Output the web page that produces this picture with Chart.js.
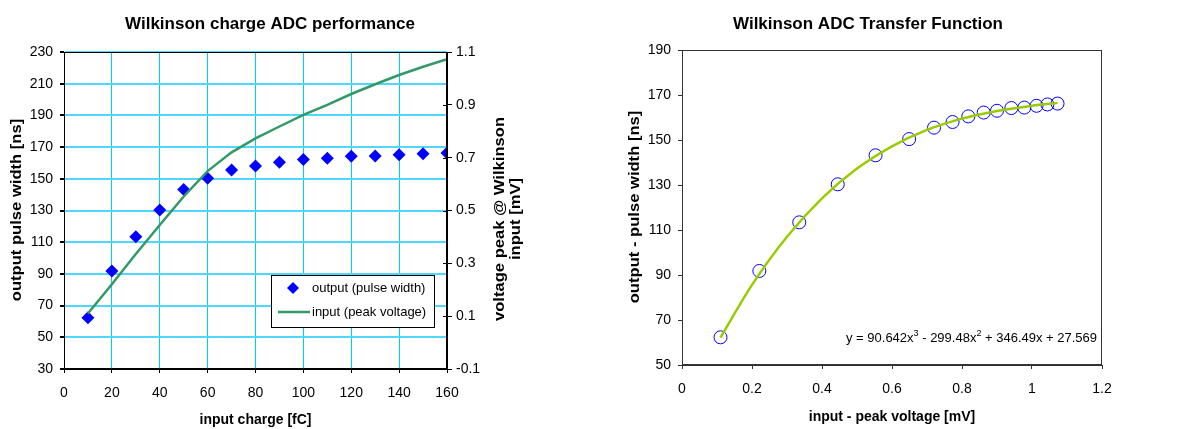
<!DOCTYPE html>
<html>
<head>
<meta charset="utf-8">
<title>Wilkinson ADC</title>
<script src="https://cdn.jsdelivr.net/npm/chart.js@4"></script>
<style>
    body { margin: 0; background: #fff; }
    .panel { position: absolute; top: 0; }
</style>
</head>
<body>
<div class="panel" style="left:0"><canvas id="adcChart" width="590" height="429"></canvas></div>
<div class="panel" style="left:590px"><canvas id="transferChart" width="591" height="429"></canvas></div>
<script>
// measured points (input charge sweep)
const inputCharge = [10, 20, 30, 40, 50, 60, 70, 80, 90, 100, 110, 120, 130, 140, 150, 160];
const pulseWidth = [62.3, 91.8, 113.4, 130.3, 143.2, 150.4, 155.5, 158.0, 160.5, 162.2, 163.0, 164.2, 164.4, 165.2, 165.8, 166.2];
const peakVoltage = [0.110, 0.221, 0.335, 0.445, 0.553, 0.649, 0.720, 0.773, 0.818, 0.862, 0.900, 0.941, 0.978, 1.013, 1.044, 1.073];

// polynomial trendline
const fitVoltage = [0.11, 0.2, 0.3, 0.4, 0.5, 0.6, 0.7, 0.8, 0.9, 1.0, 1.073];
const fitPulseWidth = [62.2, 85.6, 107.0, 124.1, 137.3, 147.2, 154.5, 159.5, 162.9, 165.2, 166.5];
const fitEquation = [['y = 90.642x', false], ['3', true], [' - 299.48x', false], ['2', true], [' + 346.49x + 27.569', false]];

const FONT = "'Liberation Sans', Arial, sans-serif";
Chart.defaults.font.family = FONT;
Chart.defaults.color = '#000';

const toPoints = (xs, ys) => xs.map((x, i) => ({ x: x, y: ys[i] }));

// Excel draws vertical titles a bit stretched along the text
function drawVerticalText(ctx, text, cx, cy) {
    ctx.save();
    ctx.translate(cx, cy);
    ctx.rotate(-Math.PI / 2);
    ctx.scale(1.185, 1);
    ctx.font = 'bold 14px ' + FONT;
    ctx.textAlign = 'center';
    ctx.textBaseline = 'middle';
    ctx.fillText(text, 0, 0);
    ctx.restore();
}

// titles, frame, legend box and other Excel-ish bits
const overlay = {
    id: 'overlay',
    afterDraw(chart, args, opts) {
        const ctx = chart.ctx;
        const a = chart.chartArea;
        ctx.save();

        ctx.strokeStyle = opts.frame;
        ctx.lineWidth = 1;
        ctx.strokeRect(Math.round(a.left) + 0.5, Math.round(a.top) + 0.5, Math.round(a.right - a.left) - 1, Math.round(a.bottom - a.top) - 1);

        ctx.fillStyle = '#000';
        ctx.font = 'bold 17px ' + FONT;
        ctx.textAlign = 'center';
        ctx.textBaseline = 'middle';
        ctx.fillText(opts.title, opts.titleX, 24);

        opts.vTitles.forEach(t => drawVerticalText(ctx, t.text, t.x, t.y));

        if (chart.scales.y2) {
            // inner half of the cross ticks on the secondary axis
            const y2 = chart.scales.y2;
            ctx.strokeStyle = '#000';
            ctx.lineWidth = 1;
            ctx.beginPath();
            y2.ticks.forEach(t => {
                const py = Math.round(y2.getPixelForValue(t.value)) + 0.5;
                ctx.moveTo(a.right - 4, py);
                ctx.lineTo(a.right, py);
            });
            ctx.stroke();
        }

        if (opts.legend) {
            const box = opts.legend;
            ctx.fillStyle = '#fff';
            ctx.fillRect(box.x, box.y, box.w, box.h);
            ctx.strokeStyle = '#000';
            ctx.strokeRect(box.x + 0.5, box.y + 0.5, box.w, box.h);

            const dots = chart.data.datasets[1];
            const line = chart.data.datasets[0];
            const y1 = box.y + 13, yl = box.y + 37;
            ctx.fillStyle = dots.backgroundColor;
            ctx.beginPath();
            ctx.moveTo(box.x + 22, y1 - 6);
            ctx.lineTo(box.x + 28, y1);
            ctx.lineTo(box.x + 22, y1 + 6);
            ctx.lineTo(box.x + 16, y1);
            ctx.closePath();
            ctx.fill();
            ctx.strokeStyle = line.borderColor;
            ctx.lineWidth = line.borderWidth;
            ctx.beginPath();
            ctx.moveTo(box.x + 7, yl);
            ctx.lineTo(box.x + 39, yl);
            ctx.stroke();

            ctx.fillStyle = '#000';
            ctx.font = '13px ' + FONT;
            ctx.textAlign = 'left';
            ctx.fillText(dots.label, box.x + 41, y1);
            ctx.fillText(line.label, box.x + 41, yl);
        }

        if (opts.equation) {
            let x = opts.equation.x;
            ctx.fillStyle = '#000';
            ctx.textAlign = 'left';
            ctx.textBaseline = 'alphabetic';
            fitEquation.forEach(([txt, sup]) => {
                ctx.font = (sup ? '9px ' : '13px ') + FONT;
                ctx.fillText(txt, x, opts.equation.y - (sup ? 6 : 0));
                x += ctx.measureText(txt).width;
            });
        }
        ctx.restore();
    }
};

const tickFont = { size: 14 };
const axisTitleFont = { size: 14, weight: 'bold' };
const plainNumber = v => String(Math.round(v * 10) / 10);

new Chart(document.getElementById('adcChart'), {
    type: 'scatter',
    data: {
        datasets: [{
            label: 'input (peak voltage)',
            data: toPoints(inputCharge, peakVoltage),
            yAxisID: 'y2',
            showLine: true,
            borderColor: '#339966',
            borderWidth: 2.5,
            pointRadius: 0
        }, {
            label: 'output (pulse width)',
            data: toPoints(inputCharge, pulseWidth),
            yAxisID: 'y',
            pointStyle: 'rectRot',
            pointRadius: 6.5,
            backgroundColor: '#0000ff',
            borderWidth: 0
        }]
    },
    options: {
        responsive: false,
        animation: false,
        events: [],
        layout: { padding: { top: 52, left: 0, right: 0, bottom: 0 } },
        plugins: {
            legend: { display: false },
            tooltip: { enabled: false },
            overlay: {
                frame: '#000',
                title: 'Wilkinson charge ADC performance',
                titleX: 270,
                vTitles: [
                    { text: 'output pulse width [ns]', x: 17, y: 210 },
                    { text: 'voltage peak @ Wilkinson', x: 500, y: 219 },
                    { text: 'input [mV]', x: 516, y: 219 }
                ],
                legend: { x: 271, y: 275, w: 163, h: 52 }
            }
        },
        scales: {
            x: {
                type: 'linear', min: 0, max: 160,
                afterFit: s => { s.height = 60; },
                ticks: { stepSize: 20, font: tickFont, padding: 12, maxRotation: 0 },
                grid: { color: 'rgb(0, 204, 255)', lineWidth: 1, tickColor: '#000', tickLength: 4 },
                border: { color: '#000' },
                title: { display: true, text: 'input charge [fC]', font: axisTitleFont, padding: 0 }
            },
            y: {
                position: 'left', min: 30, max: 230,
                afterFit: s => { s.width = 64; },
                ticks: { stepSize: 20, font: tickFont, padding: 7 },
                grid: { color: 'rgb(80, 215, 255)', lineWidth: 2, tickColor: '#000', tickLength: 4 },
                border: { color: '#000' }
            },
            y2: {
                position: 'right', min: -0.1, max: 1.1,
                afterFit: s => { s.width = 143; },
                ticks: { stepSize: 0.2, font: tickFont, padding: 4, callback: plainNumber },
                grid: { drawOnChartArea: false, tickColor: '#000', tickLength: 5 },
                border: { color: '#000' }
            }
        }
    },
    plugins: [overlay]
});

new Chart(document.getElementById('transferChart'), {
    type: 'scatter',
    data: {
        datasets: [{
            label: 'Poly. (output)',
            data: toPoints(fitVoltage, fitPulseWidth),
            showLine: true,
            borderColor: '#99cc00',
            borderWidth: 2.5,
            cubicInterpolationMode: 'monotone',
            pointRadius: 0
        }, {
            label: 'output',
            data: toPoints(peakVoltage, pulseWidth),
            pointStyle: 'circle',
            pointRadius: 6.5,
            borderColor: '#0000ff',
            backgroundColor: 'rgba(0,0,0,0)',
            borderWidth: 1
        }]
    },
    options: {
        responsive: false,
        animation: false,
        events: [],
        layout: { padding: { top: 50, left: 0, right: 79, bottom: 0 } },
        plugins: {
            legend: { display: false },
            tooltip: { enabled: false },
            overlay: {
                frame: '#333',
                title: 'Wilkinson ADC Transfer Function',
                titleX: 278,
                vTitles: [{ text: 'output - pulse width [ns]', x: 45, y: 207 }],
                equation: { x: 256, y: 342 }
            }
        },
        scales: {
            x: {
                type: 'linear', min: 0, max: 1.2,
                afterFit: s => { s.height = 64; },
                ticks: { stepSize: 0.2, font: tickFont, padding: 12, maxRotation: 0, callback: plainNumber },
                grid: { drawOnChartArea: false, tickColor: '#333', tickLength: 4 },
                border: { color: '#333' },
                title: { display: true, text: 'input - peak voltage [mV]', font: axisTitleFont, padding: { top: 0, bottom: 3 } }
            },
            y: {
                min: 50, max: 190,
                afterFit: s => { s.width = 92; },
                ticks: { stepSize: 20, font: tickFont, padding: 7 },
                grid: { drawOnChartArea: false, tickColor: '#333', tickLength: 4 },
                border: { color: '#333' }
            }
        }
    },
    plugins: [overlay]
});
</script>
</body>
</html>
